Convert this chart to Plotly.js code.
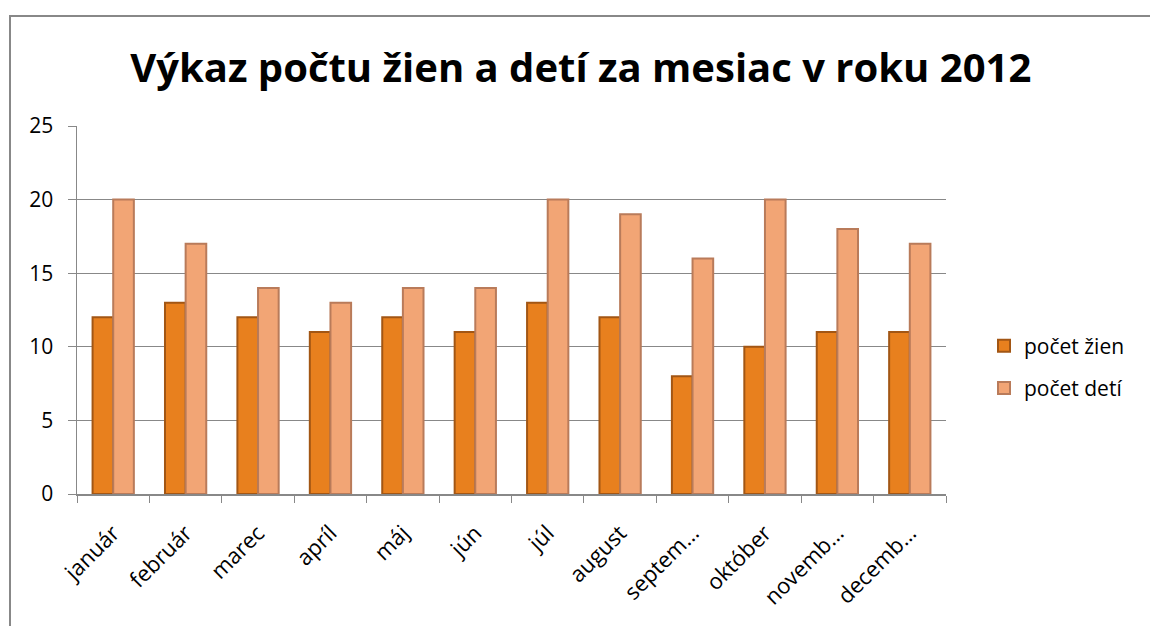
<!DOCTYPE html>
<html>
<head>
<meta charset="utf-8">
<script src="https://cdn.plot.ly/plotly-3.0.1.min.js"></script>
<style>html,body{margin:0;padding:0;background:#fff;}#chart{width:1150px;height:626px;}</style>
</head>
<body>
<div id="chart"></div>
<script>
const months = ["január","február","marec","apríl","máj","jún","júl","august","septem…","október","novemb…","decemb…"];
const zien = [12,13,12,11,12,11,13,12,8,10,11,11];
const deti = [20,17,14,13,14,14,20,19,16,20,18,17];
const yTicks = [0,5,10,15,20,25];

const W = 1150, H = 626;
const L = 77, R = 946, T = 126, B = 494;
const px = x => (x - L) / (R - L);
const py = y => (B - y) / (B - T);

const font = "'Open Sans', sans-serif";

const traces = [
  {type:"bar", name:"počet žien", x:months, y:zien, legendgroup:"a",
   marker:{color:"#E8801E", line:{color:"#A25614", width:2}}},
  {type:"bar", name:"počet detí", x:months, y:deti, legendgroup:"b",
   marker:{color:"#F2A575", line:{color:"#B97B5A", width:2}}}
];

const layout = {
  width:W, height:H,
  margin:{l:L, r:W-R, t:T, b:H-B, pad:0},
  paper_bgcolor:"#fff", plot_bgcolor:"#fff",
  barmode:"group", bargap:0.43, bargroupgap:0,
  font:{family:font, size:21, color:"#000"},
  title:{text:"<b>Výkaz počtu žien a detí za mesiac v roku 2012</b>",
         font:{family:font, size:40, color:"#000"},
         x:0.505, xanchor:"center", y:1-68/H, yanchor:"middle"},
  xaxis:{type:"category", showgrid:false, showline:true, linecolor:"#888", linewidth:1.5,
         ticks:"outside", ticklen:7, tickcolor:"#888", tickson:"boundaries",
         ticklabelstandoff:16,
         tickangle:-45, tickfont:{family:font, size:22, color:"#000"}},
  yaxis:{range:[0,25], tickvals:yTicks, showgrid:true, gridcolor:"#888", gridwidth:1,
         showline:true, linecolor:"#888", linewidth:1.5, zeroline:false,
         ticks:"outside", ticklen:8, tickcolor:"#888", ticklabelstandoff:10,
         tickfont:{family:font, size:21, color:"#000"}},
  legend:{x:px(984), y:py(367), xanchor:"left", yanchor:"middle", traceorder:"grouped",
          font:{family:font, size:21, color:"#000"}, tracegroupgap:12, itemwidth:20},
  shapes:[{type:"rect", xref:"paper", yref:"paper",
           x0:px(10), x1:px(1160), y0:py(640), y1:py(16),
           line:{color:"#888", width:2}, fillcolor:"rgba(0,0,0,0)", layer:"below"}]
};

Plotly.newPlot("chart", traces, layout, {displayModeBar:false, staticPlot:true});
</script>
</body>
</html>
